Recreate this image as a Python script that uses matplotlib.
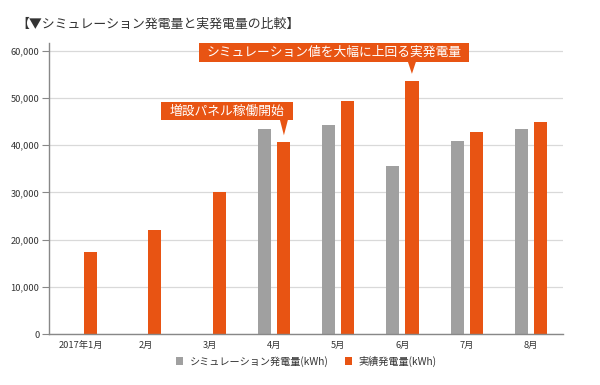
import matplotlib
matplotlib.use("Agg")
import matplotlib.pyplot as plt
import matplotlib.transforms as mtransforms
from matplotlib.patches import Rectangle, Polygon
import numpy as np

plt.rcParams['font.family'] = ['Noto Sans CJK JP', 'DejaVu Sans']

categories = ["2017年1月", "2月", "3月", "4月", "5月", "6月", "7月", "8月"]
simulation = [np.nan, np.nan, np.nan, 43500, 44300, 35500, 40800, 43400]
actual = [17400, 22000, 30000, 40600, 49300, 53600, 42700, 44900]
series_names = ["シミュレーション発電量(kWh)", "実績発電量(kWh)"]
yticks = [0, 10000, 20000, 30000, 40000, 50000, 60000]
title = "【▼シミュレーション発電量と実発電量の比較】"
callouts = [("増設パネル稼働開始", 3), ("シミュレーション値を大幅に上回る実発電量", 5)]

GRAY = "#a0a0a0"
ORANGE = "#e85413"

fig = plt.figure(figsize=(6.0, 3.85), dpi=100)
ax = fig.add_axes([0.0817, 0.1317, 0.8567, 0.7566])

x = np.arange(len(categories))
off = 0.148
w = 0.205
ax.bar(x - off, simulation, width=w, color=GRAY, label=series_names[0], zorder=3)
ax.bar(x + off, actual, width=w, color=ORANGE, label=series_names[1], zorder=3)

ax.set_xlim(-0.5, len(categories) - 0.5)
ax.set_ylim(0, 61600)
ax.set_yticks(yticks)
ax.set_yticklabels([f"{v:,}" for v in yticks])
ax.set_xticks(x)
ax.set_xticklabels(categories)
ax.tick_params(axis='y', length=5, width=0.8, color="#888888", labelsize=6.7,
               labelcolor="#333333", pad=2)
ax.tick_params(axis='x', length=0, labelsize=6.7, labelcolor="#333333", pad=5)
ax.grid(axis='y', color="#d9d9d9", linewidth=0.9, zorder=0)
for s in ['top', 'right']:
    ax.spines[s].set_visible(False)
for s in ['left', 'bottom']:
    ax.spines[s].set_color("#888888")
    ax.spines[s].set_linewidth(1.0)
    ax.spines[s].set_zorder(4)

fig.text(16 / 600, 1 - 24 / 385, title, fontsize=9.3, color="#333333",
         ha='left', va='center')

# callouts (offsets in pixels relative to top of orange bar)
boxes = {
    3: dict(x0=-122, x1=10, y0=22, y1=40, px=0.5),
    5: dict(x0=-212.5, x1=57, y0=18.5, y1=38, px=0),
}
for text, idx in callouts:
    bx = boxes[idx]
    trans = fig.dpi_scale_trans + mtransforms.ScaledTranslation(
        x[idx] + off, actual[idx], ax.transData)
    s = 1 / 100.0
    rect = Rectangle((bx['x0'] * s, bx['y0'] * s), (bx['x1'] - bx['x0']) * s,
                     (bx['y1'] - bx['y0']) * s, transform=trans,
                     facecolor=ORANGE, edgecolor='none', clip_on=False, zorder=6)
    ax.add_patch(rect)
    tri = Polygon([((bx['px'] - 4) * s, (bx['y0'] + 0.5) * s),
                   ((bx['px'] + 4) * s, (bx['y0'] + 0.5) * s),
                   (bx['px'] * s, 7 * s)], closed=True, transform=trans,
                  facecolor=ORANGE, edgecolor='none', clip_on=False, zorder=6)
    ax.add_patch(tri)
    ax.text((bx['x0'] + bx['x1']) / 2 * s, (bx['y0'] + bx['y1']) / 2 * s, text,
            transform=trans, ha='center', va='center', color='white',
            fontsize=9.2, zorder=7, clip_on=False)

ax.legend(loc='center', bbox_to_anchor=(0.5, -0.092), ncol=2, frameon=False,
          fontsize=7.3, handlelength=0.75, handleheight=0.75, handletextpad=0.6,
          columnspacing=1.6, labelcolor="#333333")

fig.savefig("out.png", dpi=100)
